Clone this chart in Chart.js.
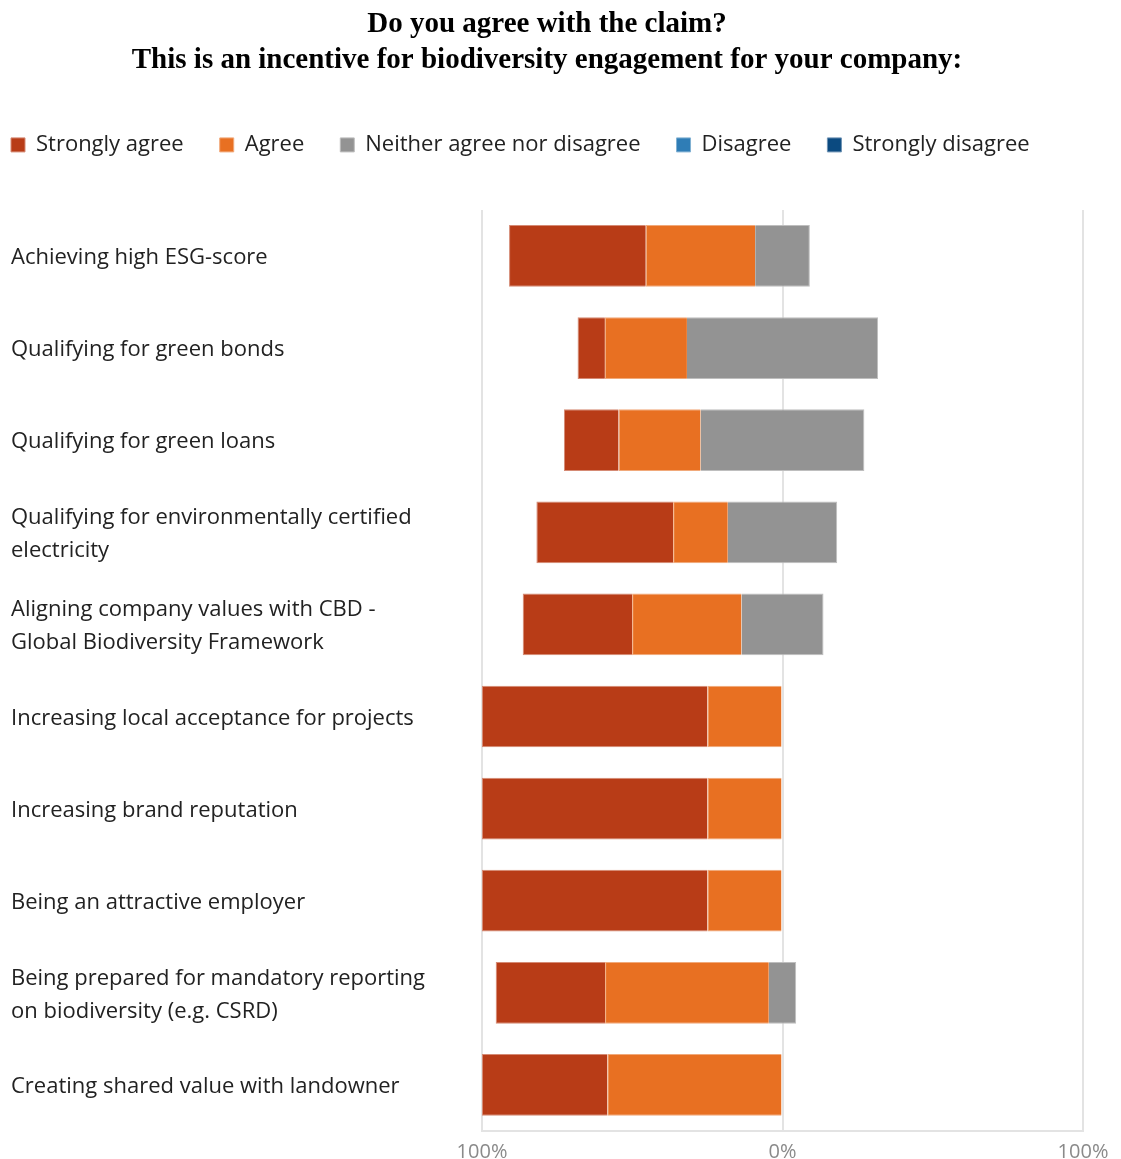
<!DOCTYPE html>
<html>
<head>
<meta charset="utf-8">
<title>Incentives for biodiversity engagement</title>
<script src="https://cdn.jsdelivr.net/npm/chart.js@4.4.1/dist/chart.umd.min.js"></script>
<style>
  html, body { margin: 0; padding: 0; background: #fff; }
  #wrap { width: 1121px; height: 1159px; position: relative; }
</style>
</head>
<body>
<div id="wrap"><canvas id="chart"></canvas></div>
<script>
const categories = [
  "Achieving high ESG-score",
  "Qualifying for green bonds",
  "Qualifying for green loans",
  ["Qualifying for environmentally certified", "electricity"],
  ["Aligning company values with CBD -", "Global Biodiversity Framework"],
  "Increasing local acceptance for projects",
  "Increasing brand reputation",
  "Being an attractive employer",
  ["Being prepared for mandatory reporting", "on biodiversity (e.g. CSRD)"],
  "Creating shared value with landowner"
]

// share of answers per statement, in percent
const stronglyAgree     = [45.5, 9.1, 18.2, 45.5, 36.4, 75, 75, 75, 36.4, 41.7]
const agree             = [36.4, 27.3, 27.3, 18.2, 36.4, 25, 25, 25, 54.5, 58.3]
const neither           = [18.2, 63.6, 54.5, 36.4, 27.3, 0, 0, 0, 9.1, 0]
const disagree          = [0, 0, 0, 0, 0, 0, 0, 0, 0, 0]
const stronglyDisagree  = [0, 0, 0, 0, 0, 0, 0, 0, 0, 0]

const axisTicks = [-100, 0, 100]

const colors = {
  stronglyAgree: "#b83c17",
  agree: "#e87022",
  neither: "#939393",
  disagree: "#2f7db6",
  stronglyDisagree: "#0b4a80"
}

// lighter outline around each segment
const edges = {
  stronglyAgree: "#d58a74",
  agree: "#f1a97a",
  neither: "#bebebe",
  disagree: "#82b1d3",
  stronglyDisagree: "#6d92b3"
}

// neutral answers are split evenly around 0%, agreement goes left, disagreement right
const half = neither.map((v) => v / 2)
const spans = {
  stronglyAgree: categories.map((_, i) => [-(half[i] + agree[i] + stronglyAgree[i]), -(half[i] + agree[i])]),
  agree: categories.map((_, i) => [-(half[i] + agree[i]), -half[i]]),
  neither: categories.map((_, i) => [-half[i], half[i]]),
  disagree: categories.map((_, i) => [half[i], half[i] + disagree[i]]),
  stronglyDisagree: categories.map((_, i) => [half[i] + disagree[i], half[i] + disagree[i] + stronglyDisagree[i]])
}

const uiFont = "'Open Sans', 'Noto Sans', sans-serif"

// legend row flush with the left edge, with a fixed block height so the plot starts lower
const legendTweaks = {
  id: "legendTweaks",
  afterInit(chart) {
    const legend = chart.legend
    const fit = legend.fit.bind(legend)
    legend.fit = function () {
      fit()
      this.height = 114
    }
  },
  afterLayout(chart) {
    chart.legend.left = 11 - chart.legend.options.labels.padding
    chart.legend.top += 2
  }
}

const series = (label, key) => ({
  label,
  data: spans[key],
  backgroundColor: colors[key],
  borderColor: edges[key],
  borderWidth: 1
})

new Chart(document.getElementById("chart"), {
  type: "bar",
  data: {
    labels: categories,
    datasets: [
      series("Strongly agree", "stronglyAgree"),
      series("Agree", "agree"),
      series("Neither agree nor disagree", "neither"),
      series("Disagree", "disagree"),
      series("Strongly disagree", "stronglyDisagree")
    ]
  },
  options: {
    indexAxis: "y",
    responsive: true,
    maintainAspectRatio: false,
    animation: false,
    layout: {
      padding: { left: 11, right: 38, top: 0, bottom: -15 }
    },
    datasets: {
      bar: {
        categoryPercentage: 0.67,
        barPercentage: 1
      }
    },
    scales: {
      x: {
        min: -100,
        max: 100,
        afterBuildTicks: (scale) => {
          scale.ticks = axisTicks.map((value) => ({ value }))
        },
        ticks: {
          callback: (value) => Math.abs(value) + "%",
          color: "#8a8a8a",
          padding: 10,
          maxRotation: 0,
          font: { family: uiFont, size: 20, lineHeight: 1.15 }
        },
        grid: { color: "#e3e3e3", lineWidth: 2, drawTicks: false },
        border: { display: true, color: "#e3e3e3", width: 2 }
      },
      y: {
        stacked: true,
        afterFit: (scale) => { scale.width = 471 },
        ticks: {
          crossAlign: "far",
          color: "#222",
          padding: 10,
          labelOffset: 2,
          font: { family: uiFont, size: 22, lineHeight: 1.5 }
        },
        grid: { display: false },
        border: { display: false }
      }
    },
    plugins: {
      title: {
        display: true,
        text: ["Do you agree with the claim?", "This is an incentive for biodiversity engagement for your company:"],
        color: "#000",
        font: { family: "'Liberation Serif', 'Times New Roman', serif", size: 29, weight: "bold", lineHeight: 1.24 },
        padding: { top: 7, bottom: 17 }
      },
      legend: {
        position: "top",
        align: "start",
        labels: {
          boxWidth: 14,
          boxHeight: 14,
          padding: 36,
          color: "#222",
          font: { family: uiFont, size: 22 }
        }
      },
      tooltip: { enabled: false }
    }
  },
  plugins: [legendTweaks]
})
</script>
</body>
</html>
